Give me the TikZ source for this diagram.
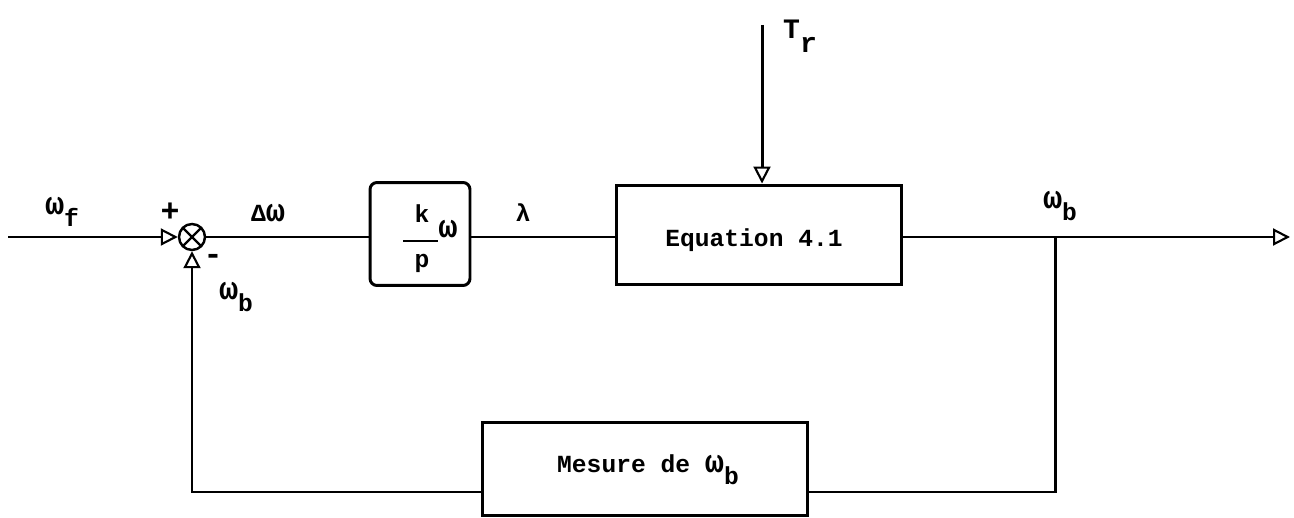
\documentclass[tikz,border=0pt]{standalone}
\usepackage{fontspec}
\setmainfont{Liberation Mono}
\usetikzlibrary{arrows.meta}
\newcommand{\dn}[1]{\raisebox{-0.5em}{#1}}
\newcommand{\om}{\scalebox{1.3}{ω}}
\begin{document}
\begin{tikzpicture}[x=0.02cm,y=-0.02cm,
  wire/.style={line width=1.7pt},
  blk/.style={draw,line width=1.7pt,inner sep=0},
  oarrow/.style={-{Triangle[open,length=0.34cm,width=0.34cm,line width=1.2pt]}},
  lbl/.style={font=\fontsize{14}{16}\bfseries\selectfont, inner sep=0},
  sgn/.style={font=\fontsize{18}{20}\bfseries\selectfont, inner sep=0}]
\useasboundingbox (0,0) rectangle (1294,517);
% summing junction
\node[draw, circle, line width=1.4pt, minimum size=0.52cm, inner sep=0,
  path picture={\draw[line width=1.4pt]
    (path picture bounding box.north west)--(path picture bounding box.south east)
    (path picture bounding box.north east)--(path picture bounding box.south west);}]
  (sum) at (192,237) {};
% blocks
\node[blk, rounded corners=4pt, minimum width=2cm, minimum height=2.06cm] (b1) at (420,234) {};
\node[blk, minimum width=5.72cm, minimum height=2cm] (b2) at (759,235) {};
\node[blk, minimum width=6.5cm, minimum height=1.86cm] (b3) at (645,469) {};
% block texts
\node[lbl] (eq) at (754,240) {Equation 4.1};
\node[lbl] (mes) at (648,470) {Mesure de \om\dn{b}};
\node[lbl] (k) at (422,214) {k};
\node[lbl] (kw) at (448,229) {\om};
\node[lbl] (p) at (422,263) {p};
\coordinate (fl) at (403,241);
\coordinate (fr) at (438,241);
\draw[line width=1.4pt] (fl) -- (fr);
% coordinates
\coordinate (in) at (8,237);
\coordinate (out) at (1290,237);
\coordinate (br) at (1055,237);
\coordinate (fb) at (1055,492);
\coordinate (tr) at (762,25);
% connectors
\draw[wire,oarrow] (in) -- (sum.west);
\draw[wire] (sum.east) -- (sum.east -| b1.west);
\draw[wire] (b1.east |- sum) -- (b2.west |- sum);
\draw[wire,oarrow] (b2.east |- sum) -- (out);
\draw[wire] (br) -- (fb) -- (fb -| b3.east);
\draw[wire,oarrow] (b3.west |- fb) -| (sum.south);
\draw[wire,oarrow] (tr) -- (tr |- b2.north);
% labels
\node[lbl] (lwf) at (62,212) {\om\dn{f}};
\node[sgn] (lplus) at (170,212) {+};
\node[sgn] (lminus) at (213,259) {-};
\node[lbl] (ldw) at (268,213) {Δ\om};
\node[lbl] (lwb1) at (236,297) {\om\dn{b}};
\node[lbl] (llam) at (523,213) {λ};
\node[lbl, font=\fontsize{16}{18}\bfseries\selectfont] (ltr) at (800,36) {T\dn{r}};
\node[lbl] (lwb2) at (1060,206) {\om\dn{b}};
\end{tikzpicture}
\end{document}
